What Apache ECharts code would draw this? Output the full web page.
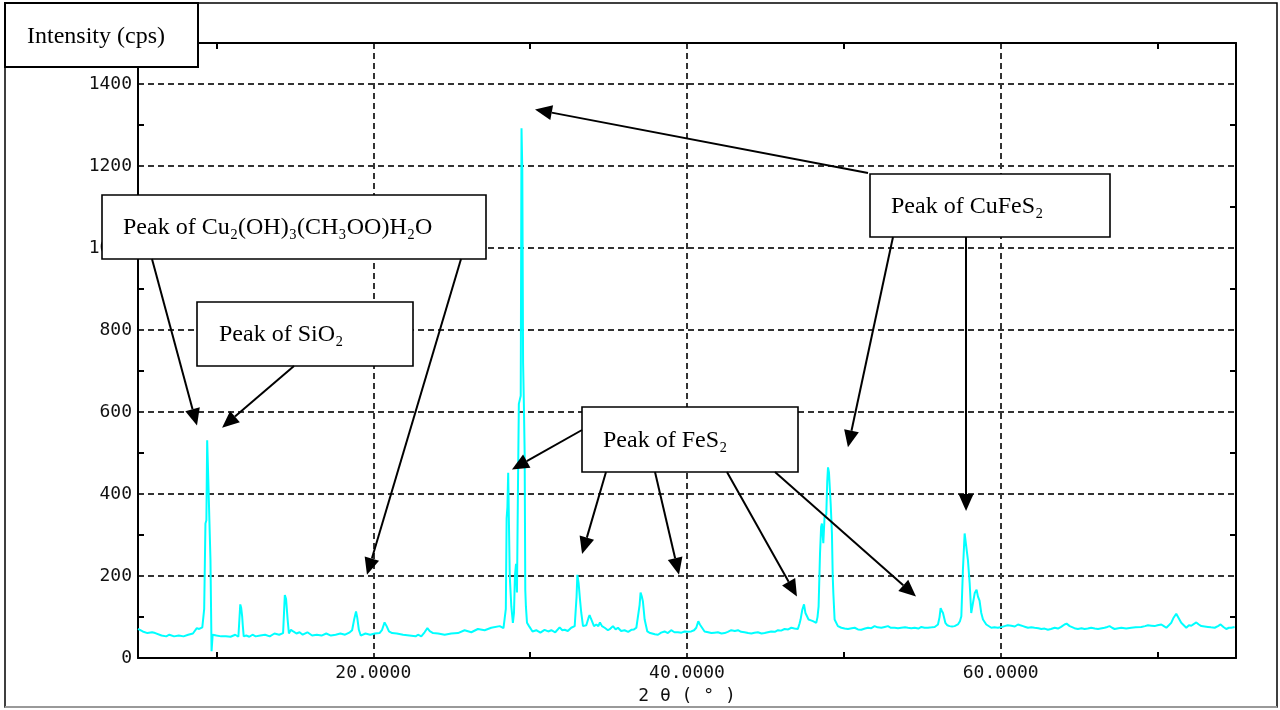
<!DOCTYPE html>
<html>
<head>
<meta charset="utf-8">
<script src="https://cdn.jsdelivr.net/npm/echarts@6/dist/echarts.min.js"></script>
<style>
html,body{margin:0;padding:0;background:#fff;}
#chart{width:1280px;height:710px;}
</style>
</head>
<body>
<div id="chart"></div>
<script>
// ---- data (2θ in degrees, intensity in cps) ----
const twoTheta = [
5.00,5.30,5.60,5.90,6.10,6.50,6.80,7.00,7.30,7.60,7.90,8.20,8.50,8.75,8.90,9.10,9.22,9.30,9.36,9.41,9.48,9.54,9.62,9.69,9.76,
10.00,10.30,10.60,10.90,11.20,11.40,11.52,11.58,11.64,11.68,11.74,11.90,12.10,12.30,12.50,12.80,13.10,13.40,13.70,14.00,14.25,14.36,14.44,14.54,14.62,14.75,14.90,
15.10,15.30,15.50,15.80,16.10,16.40,16.70,17.00,17.30,17.60,17.90,18.20,18.50,18.65,18.78,18.90,18.98,19.08,19.20,19.50,19.80,
20.10,20.40,20.55,20.72,20.85,21.00,21.20,21.50,21.90,22.30,22.70,22.85,23.06,23.27,23.45,23.60,23.81,24.13,24.55,24.97,
25.40,25.82,26.25,26.67,27.10,27.52,28.06,28.30,28.45,28.50,28.55,28.60,28.64,28.70,28.80,28.90,28.97,29.03,29.10,29.16,29.22,29.28,29.40,29.45,29.50,29.55,29.60,29.65,29.69,29.73,29.80,29.93,
30.15,30.39,30.65,30.92,31.15,31.35,31.60,31.88,32.05,32.20,32.40,32.62,32.84,32.96,33.01,33.09,33.18,33.26,33.37,33.58,33.72,33.79,33.88,33.94,34.07,34.22,34.35,34.45,34.58,34.75,34.96,
35.12,35.28,35.45,35.60,35.80,36.02,36.25,36.45,36.62,36.77,36.87,36.98,37.04,37.12,37.19,37.30,37.47,37.60,37.72,37.95,38.15,38.35,38.57,38.78,38.99,39.20,39.42,39.65,39.85,
40.05,40.27,40.45,40.59,40.72,40.82,40.91,41.12,41.35,41.55,41.75,41.97,42.20,42.40,42.60,42.82,43.05,43.25,43.45,43.67,43.90,44.10,44.30,44.52,44.75,44.95,
45.15,45.37,45.60,45.80,46.00,46.22,46.45,46.65,46.85,47.07,47.18,47.24,47.35,47.46,47.55,47.61,47.75,47.90,48.03,48.24,48.32,48.39,48.48,48.55,48.60,48.69,48.77,48.88,48.94,48.99,
49.05,49.09,49.16,49.24,49.29,49.33,49.41,49.62,49.84,50.05,50.26,50.50,50.69,50.90,51.11,51.35,51.54,51.75,51.96,52.15,52.39,52.60,52.81,53.00,53.24,53.45,53.66,53.90,54.09,54.30,54.51,54.75,54.94,
55.15,55.36,55.60,55.79,56.00,56.10,56.17,56.25,56.32,56.47,56.60,56.74,56.90,57.06,57.27,57.40,57.49,57.59,57.70,57.80,57.91,58.02,58.12,58.23,58.34,58.46,58.55,58.65,58.76,58.87,59.08,59.40,59.60,59.82,
60.05,60.25,60.45,60.67,60.90,61.10,61.25,61.42,61.58,61.74,61.95,62.16,62.40,62.59,62.80,63.01,63.20,63.44,63.65,63.85,64.07,64.20,64.29,64.40,64.50,64.70,64.92,
65.15,65.35,65.55,65.77,66.00,66.20,66.45,66.62,66.80,66.94,67.10,67.26,67.50,67.69,68.00,68.33,68.60,68.96,69.20,69.39,69.60,69.81,
70.00,70.24,70.40,70.56,70.72,70.87,71.00,71.19,71.35,71.51,71.67,71.83,72.00,72.15,72.30,72.47,72.63,72.79,73.00,73.21,73.40,73.64,73.85,74.02,74.20,74.38,74.55,74.70,74.91
];
const intensity = [
71,65,61,63,61,55,53,57,53,55,53,57,60,73,71,75,120,328,336,531,437,437,239,17,57,
55,53,53,52,57,52,131,122,102,80,53,55,52,57,53,55,57,53,60,57,61,154,144,94,60,69,65,
60,63,57,63,55,57,55,60,55,57,60,57,63,68,94,114,98,69,55,60,57,
60,61,68,87,78,65,61,60,57,55,53,57,53,63,73,66,61,60,57,60,
61,68,63,71,68,74,78,73,120,340,368,452,350,200,126,86,110,200,230,160,400,620,640,1292,1190,720,620,500,166,126,86,78,
65,68,62,69,65,68,63,75,68,69,66,74,78,150,203,183,142,110,78,80,98,105,96,94,78,82,78,87,78,74,68,
72,78,70,74,66,68,64,69,70,74,78,130,160,150,138,94,65,62,63,58,57,62,65,61,68,63,63,62,65,
64,65,68,74,90,82,78,65,63,61,62,63,60,61,64,68,66,68,64,63,61,60,62,63,60,61,
63,65,64,68,67,71,70,74,72,71,85,94,118,131,110,106,94,92,90,86,100,126,255,320,328,280,344,350,430,465,
453,449,376,304,200,158,94,78,74,72,71,73,74,70,69,72,74,73,78,75,74,76,78,74,74,73,74,75,74,73,74,72,76,
74,74,75,76,82,100,122,115,110,86,80,78,77,78,82,90,102,215,304,300,239,183,110,106,158,167,150,140,110,94,82,74,75,74,
76,78,80,79,77,82,80,78,76,74,75,74,73,71,72,69,71,74,72,76,82,84,86,78,74,73,71,
73,71,72,74,72,71,73,74,76,78,74,71,73,74,72,74,75,76,78,80,79,78,
80,82,78,74,80,86,97,108,97,86,80,74,80,79,83,87,82,78,77,76,75,74,78,82,76,71,74,74,76
];
const xLabelValues = [20, 40, 60];
const xMinorTicks = [10, 30, 50, 70];
const yLabelValues = [0, 200, 400, 600, 800, 1000, 1200, 1400];
const yMinorTicks = [100, 300, 500, 700, 900, 1100, 1300];

// annotation labels and the data points their arrows indicate
const labelTexts = ['Peak of Cu₂(OH)₃(CH₃OO)H₂O', 'Peak of SiO₂', 'Peak of CuFeS₂', 'Peak of FeS₂'];
const arrowTargets = [ // [label index, 2θ, intensity]
  [0, 8.76, 567], [0, 19.6, 203],
  [1, 10.36, 562],
  [2, 30.31, 1338], [2, 50.26, 514], [2, 57.79, 359],
  [3, 28.84, 460], [3, 33.31, 254], [3, 39.49, 203], [3, 47.01, 150], [3, 54.6, 150]
];
</script>
<script>
const seriesData = twoTheta.map((t, i) => [t, intensity[i]]);
const chart = echarts.init(document.getElementById('chart'), null, {renderer: 'canvas'});
const monoFont = 'DejaVu Sans Mono';
const serifFont = 'Liberation Serif';
const gridLine = {show: true, lineStyle: {color: '#333', width: 2, type: [6, 4]}};
const frameLine = {show: true, onZero: false, lineStyle: {color: '#000', width: 2}};
const minorTick = (vals) => ({show: true, inside: true, length: 6, customValues: vals, lineStyle: {color: '#000', width: 2}});

chart.setOption({
  animation: false,
  backgroundColor: '#fff',
  grid: {left: 138, right: 44, top: 43, bottom: 48, containLabel: false},
  xAxis: [
    {type: 'value', min: 5, max: 75, position: 'bottom', axisLine: frameLine,
     axisTick: {show: false, customValues: xLabelValues},
     axisLabel: {customValues: xLabelValues, formatter: v => v.toFixed(4), fontFamily: monoFont, fontSize: 18, color: '#111', margin: 6},
     splitLine: gridLine,
     name: '2 θ ( ° )', nameLocation: 'middle', nameGap: 27,
     nameTextStyle: {fontFamily: monoFont, fontSize: 18, color: '#111'}},
    {type: 'value', min: 5, max: 75, position: 'top', axisLine: frameLine,
     axisTick: minorTick(xMinorTicks), axisLabel: {show: false}, splitLine: {show: false}},
    {type: 'value', min: 5, max: 75, position: 'bottom', axisLine: {show: false, onZero: false},
     axisTick: minorTick(xMinorTicks), axisLabel: {show: false}, splitLine: {show: false}}
  ],
  yAxis: [
    {type: 'value', min: 0, max: 1500, position: 'left', axisLine: frameLine,
     axisTick: {show: false, customValues: yLabelValues},
     axisLabel: {customValues: yLabelValues, formatter: v => String(v), fontFamily: monoFont, fontSize: 18, color: '#111', margin: 6},
     splitLine: gridLine},
    {type: 'value', min: 0, max: 1500, position: 'right', axisLine: frameLine,
     axisTick: minorTick(yMinorTicks), axisLabel: {show: false}, splitLine: {show: false}},
    {type: 'value', min: 0, max: 1500, position: 'left', axisLine: {show: false, onZero: false},
     axisTick: minorTick(yMinorTicks), axisLabel: {show: false}, splitLine: {show: false}}
  ],
  series: [{
    type: 'line', xAxisIndex: 0, yAxisIndex: 0, data: seriesData,
    showSymbol: false, symbol: 'none', lineStyle: {color: '#00FFFF', width: 2}, z: 5
  }]
});

// ---- annotations: boxes (layout) and arrows pointing at data positions ----
const boxes = [
  {x: 102, y: 195, w: 384, h: 64, tx: 123, ty: 228},
  {x: 197, y: 302, w: 216, h: 64, tx: 219, ty: 335},
  {x: 870, y: 174, w: 240, h: 63, tx: 891, ty: 207},
  {x: 582, y: 407, w: 216, h: 65, tx: 603, ty: 441}
];
const arrowTails = [[152, 259], [461, 259], [294, 366], [868, 173], [893, 237], [966, 237],
  [582, 430], [606, 472], [655, 472], [727, 472], [775, 472]];

const g = [];
// outer frame
g.push({type: 'rect', shape: {x: 5, y: 3, width: 1272, height: 704}, style: {fill: 'none', stroke: '#000', lineWidth: 1.5}, z: 200});
g.push({type: 'line', shape: {x1: 5, y1: 707, x2: 1277, y2: 707}, style: {stroke: '#999', lineWidth: 2}, z: 201});
// y axis title box
g.push({type: 'rect', shape: {x: 5, y: 3, width: 193, height: 64}, style: {fill: '#fff', stroke: '#000', lineWidth: 2}, z: 202});
g.push({type: 'text', x: 27, y: 37, style: {text: 'Intensity (cps)', font: '24px "' + serifFont + '"', fill: '#000', verticalAlign: 'middle'}, z: 203});

boxes.forEach((b, i) => {
  g.push({type: 'rect', shape: {x: b.x, y: b.y, width: b.w, height: b.h}, style: {fill: '#fff', stroke: '#000', lineWidth: 1.6}, z: 150});
  g.push({type: 'text', x: b.tx, y: b.ty, style: {text: labelTexts[i], font: '24px "' + serifFont + '"', fill: '#000', verticalAlign: 'middle'}, z: 151});
});

arrowTargets.forEach((a, i) => {
  const tip = chart.convertToPixel({xAxisIndex: 0, yAxisIndex: 0}, [a[1], a[2]]);
  const tail = arrowTails[i];
  const dx = tip[0] - tail[0], dy = tip[1] - tail[1];
  const len = Math.sqrt(dx * dx + dy * dy);
  const ux = dx / len, uy = dy / len;
  const hl = 17, hw = 7.5;
  const bx = tip[0] - ux * hl, by = tip[1] - uy * hl;
  g.push({type: 'line', shape: {x1: tail[0], y1: tail[1], x2: bx, y2: by}, style: {stroke: '#000', lineWidth: 2}, z: 160});
  g.push({type: 'polygon', shape: {points: [[tip[0], tip[1]], [bx - uy * hw, by + ux * hw], [bx + uy * hw, by - ux * hw]]},
    style: {fill: '#000'}, z: 160});
});

chart.setOption({graphic: g});
</script>
</body>
</html>
